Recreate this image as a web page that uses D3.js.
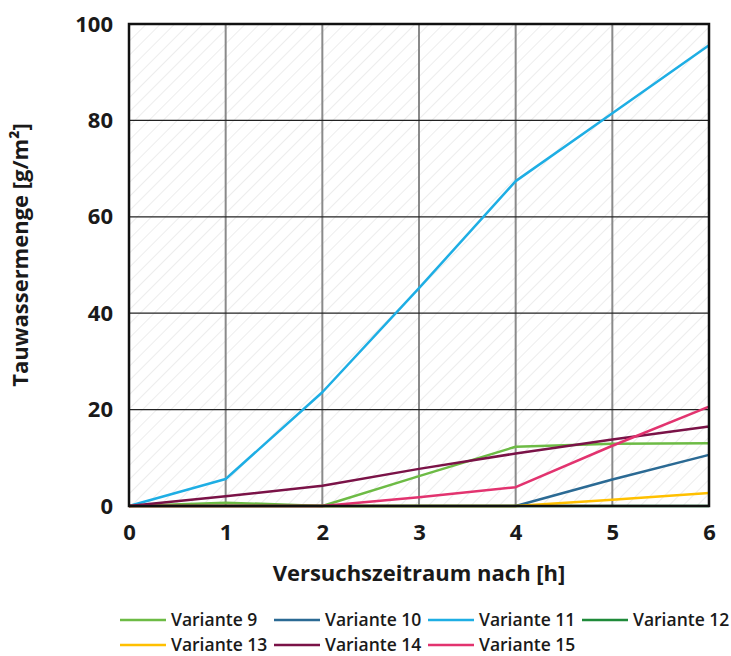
<!DOCTYPE html>
<html>
<head>
<meta charset="utf-8">
<script src="https://cdn.jsdelivr.net/npm/d3@7"></script>
<style>
  body { margin: 0; background: #fff; }
  svg text { font-family: "Open Sans", "Noto Sans", sans-serif; }
</style>
</head>
<body>
<div id="chart"></div>
<script>
// data
const hours = [0, 1, 2, 3, 4, 5, 6];
const seriesNames = ["Variante 9", "Variante 10", "Variante 11", "Variante 12", "Variante 13", "Variante 14", "Variante 15"];
const variante9 = [0, 0.7, 0, 6.2, 12.3, 12.9, 13.0];
const variante10 = [0, 0, 0, 0, 0, 5.5, 10.6];
const variante11 = [0, 5.6, 23.6, 45.2, 67.4, 81.5, 95.6];
const variante12 = [0, 0, 0, 0, 0, 0, 0];
const variante13 = [0, 0, 0, 0, 0, 1.3, 2.7];
const variante14 = [0, 2.0, 4.2, 7.7, 10.9, 13.8, 16.5];
const variante15 = [0, 0, 0, 1.8, 3.9, 12.5, 20.6];
const seriesColors = ["#6dbb45", "#2b6a94", "#1eaee4", "#1f8a3a", "#ffc000", "#7a1247", "#e2336f"];
const yTicks = [0, 20, 40, 60, 80, 100];

const seriesValues = [variante9, variante10, variante11, variante12, variante13, variante14, variante15];

const width = 731, height = 656;
const margin = { top: 24, right: 22, bottom: 150, left: 129 };

const svg = d3.select('#chart')
    .append('svg')
    .attr('width', width)
    .attr('height', height);

const x = d3.scaleLinear()
    .domain([0, 6])
    .range([margin.left, width - margin.right]);

const y = d3.scaleLinear()
    .domain([0, 100])
    .range([height - margin.bottom, margin.top]);

// hatched background
const defs = svg.append('defs');
const pat = defs.append('pattern')
    .attr('id', 'hatch')
    .attr('patternUnits', 'userSpaceOnUse')
    .attr('width', 10)
    .attr('height', 10)
    .attr('patternTransform', 'rotate(45)');
pat.append('line')
    .attr('x1', 0).attr('y1', 0)
    .attr('x2', 0).attr('y2', 10)
    .attr('stroke', '#dcdcdc')
    .attr('stroke-width', 1);

svg.append('rect')
    .attr('x', x(0))
    .attr('y', y(100))
    .attr('width', x(6) - x(0))
    .attr('height', y(0) - y(100))
    .attr('fill', 'url(#hatch)');

// grid
svg.append('g')
    .selectAll('line')
    .data(hours.slice(1, -1))
    .join('line')
    .attr('x1', d => x(d)).attr('x2', d => x(d))
    .attr('y1', y(100)).attr('y2', y(0))
    .attr('stroke', '#8a8a8a')
    .attr('stroke-width', 2);

svg.append('g')
    .selectAll('line')
    .data(yTicks.slice(1, -1))
    .join('line')
    .attr('x1', x(0)).attr('x2', x(6))
    .attr('y1', d => y(d)).attr('y2', d => y(d))
    .attr('stroke', '#222')
    .attr('stroke-width', 1.3);

// lines
const line = d3.line()
    .x((d, i) => x(hours[i]))
    .y(d => y(d));

svg.append('g')
    .selectAll('path')
    .data(seriesValues)
    .join('path')
    .attr('d', d => line(d))
    .attr('fill', 'none')
    .attr('stroke', (d, i) => seriesColors[i])
    .attr('stroke-width', 2.5)
    .attr('stroke-linejoin', 'round');

// frame
svg.append('rect')
    .attr('x', x(0))
    .attr('y', y(100))
    .attr('width', x(6) - x(0))
    .attr('height', y(0) - y(100))
    .attr('fill', 'none')
    .attr('stroke', '#111')
    .attr('stroke-width', 2.5);

// axes
const xAxis = svg.append('g')
    .attr('transform', `translate(0, ${y(0)})`)
    .call(d3.axisBottom(x).tickValues(hours).tickSize(0).tickPadding(18).tickFormat(d3.format('d')));
xAxis.select('.domain').remove();
xAxis.selectAll('text')
    .attr('font-size', '22px')
    .attr('font-weight', 'bold')
    .attr('fill', '#1a1a1a');

const yAxis = svg.append('g')
    .attr('transform', `translate(${x(0)}, 0)`)
    .call(d3.axisLeft(y).tickValues(yTicks).tickSize(0).tickPadding(16));
yAxis.select('.domain').remove();
yAxis.selectAll('text')
    .attr('font-size', '22px')
    .attr('font-weight', 'bold')
    .attr('fill', '#1a1a1a');

svg.append('text')
    .attr('x', x(3))
    .attr('y', 581)
    .attr('text-anchor', 'middle')
    .attr('font-size', '22px')
    .attr('font-weight', 'bold')
    .attr('fill', '#1a1a1a')
    .text('Versuchszeitraum nach [h]');

svg.append('text')
    .attr('transform', `translate(28, 255) rotate(-90)`)
    .attr('text-anchor', 'middle')
    .attr('font-size', '22px')
    .attr('font-weight', 'bold')
    .attr('fill', '#1a1a1a')
    .text('Tauwassermenge [g/m²]');

// legend
const legend = svg.append('g');
const item = legend.selectAll('g')
    .data(seriesNames)
    .join('g')
    .attr('transform', (d, i) => `translate(${120 + (i % 4) * 154}, ${620 + Math.floor(i / 4) * 25})`);
item.append('line')
    .attr('x1', 0).attr('x2', 46)
    .attr('y1', 0).attr('y2', 0)
    .attr('stroke', (d, i) => seriesColors[i])
    .attr('stroke-width', 2.5);
item.append('text')
    .attr('x', 51)
    .attr('y', 6)
    .attr('font-size', '17.5px')
    .attr('font-weight', 600)
    .attr('fill', '#1a1a1a')
    .text(d => d);
</script>
</body>
</html>
